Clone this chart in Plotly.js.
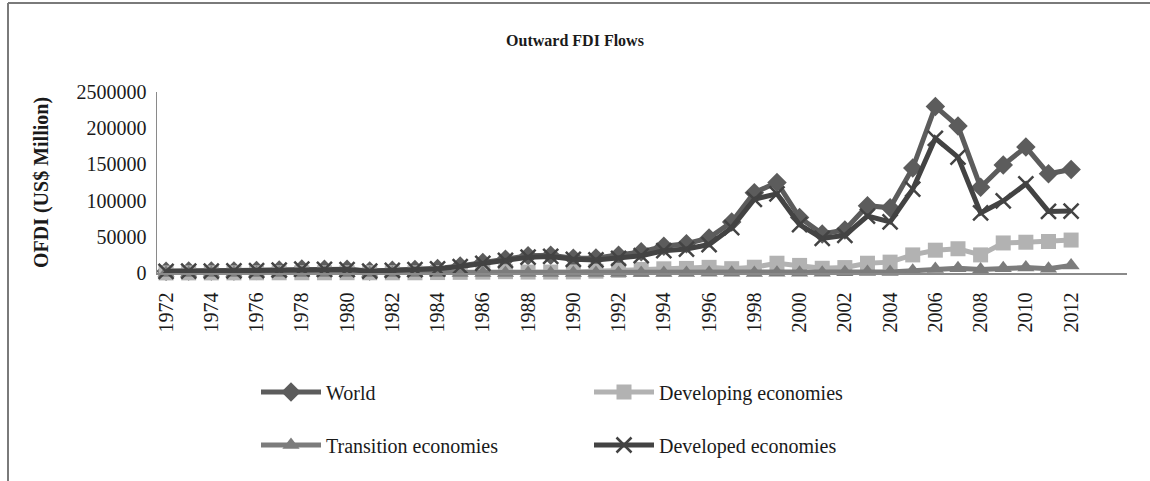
<!DOCTYPE html>
<html>
<head>
<meta charset="utf-8">
<script src="https://cdn.plot.ly/plotly-3.0.1.min.js"></script>
<style>
  html, body { margin: 0; padding: 0; background: #fff; }
  #chart { width: 1150px; height: 481px; }
</style>
</head>
<body>
<div id="chart"></div>
<script>
// ---- data (label years as shown on the axis) ----
const years = [1972,1973,1974,1975,1976,1977,1978,1979,1980,1981,1982,1983,1984,1985,1986,1987,1988,1989,1990,1991,1992,1993,1994,1995,1996,1997,1998,1999,2000,2001,2002,2003,2004,2005,2006,2007,2008,2009,2010,2011,2012];

const world = [2500,2800,2850,2900,3400,4300,5500,5300,5200,2800,3800,5000,6300,9800,14500,19000,23800,24600,20500,20800,24500,29200,37000,40500,48500,70500,111000,125000,76500,54000,59500,93000,90000,145000,230000,203000,118500,149000,174000,137000,143000];

const developing = [100,150,150,200,250,300,350,300,400,300,300,300,600,900,1200,1800,1300,1300,1500,2500,3800,4800,5800,6300,7800,6000,8000,13500,10500,6500,7500,13500,15000,25000,31500,33500,25000,41500,42500,43500,45500];

const transition = [0,0,0,0,0,0,0,0,0,0,0,0,0,0,0,0,0,0,0,0,10,30,50,100,300,250,150,320,270,460,1060,1400,1500,3000,5500,6500,5000,6500,7500,6000,10500];

const developed = [2400,2700,2700,2800,3200,4100,5200,4900,4800,2500,3500,4700,5700,8900,13400,17300,21800,22900,18900,18000,20100,23900,30800,33100,39300,62600,101800,109400,66700,47700,52000,78700,70700,115700,186000,160000,83000,99500,123000,85000,85500];

const seriesNames = ['World','Developing economies','Transition economies','Developed economies'];

const xTickVals = [1972,1974,1976,1978,1980,1982,1984,1986,1988,1990,1992,1994,1996,1998,2000,2002,2004,2006,2008,2010,2012];
const xTickText = xTickVals.map(String);

const yTickVals = [0,50000,100000,150000,200000,250000];
const yTickText = ['0','50000','100000','150000','200000','2500000'];

// ---- layout geometry (pixels) ----
const W = 1150, H = 481;
const L = 157, R = 1127, T = 92, B = 273;
const xp = px => (px - L) / (R - L);
const yp = py => (B - py) / (B - T);

const FONT = 'Liberation Serif, Times New Roman, serif';

const traces = [
  {
    x: years, y: world, name: seriesNames[0], type: 'scatter', mode: 'lines+markers',
    line: {color: '#5c5c5c', width: 5},
    marker: {symbol: 'diamond', size: 15, color: '#5c5c5c'},
    cliponaxis: false, legend: 'legend'
  },
  {
    x: years, y: developing, name: seriesNames[1], type: 'scatter', mode: 'lines+markers',
    line: {color: '#b2b2b2', width: 5},
    marker: {symbol: 'square', size: 15, color: '#b2b2b2'},
    cliponaxis: false, legend: 'legend'
  },
  {
    x: years, y: transition, name: seriesNames[2], type: 'scatter', mode: 'lines+markers',
    line: {color: '#7c7c7c', width: 5},
    marker: {symbol: 'triangle-up', size: 15, color: '#7c7c7c'},
    cliponaxis: false, legend: 'legend2'
  },
  {
    x: years, y: developed, name: seriesNames[3], type: 'scatter', mode: 'lines+markers',
    line: {color: '#434343', width: 5},
    marker: {symbol: 'x-thin', size: 15, color: '#434343', line: {color: '#434343', width: 2.5}},
    cliponaxis: false, legend: 'legend2'
  }
];

const legendCommon = {
  orientation: 'h', xanchor: 'left', yanchor: 'middle',
  font: {family: FONT, size: 20, color: '#1a1a1a'},
  bgcolor: 'rgba(0,0,0,0)', borderwidth: 0,
  itemwidth: 60, entrywidth: 258, entrywidthmode: 'pixels',
  itemclick: false, itemdoubleclick: false
};

const layout = {
  width: W, height: H,
  margin: {l: L, r: W - R, t: T, b: H - B, pad: 0},
  paper_bgcolor: '#ffffff', plot_bgcolor: '#ffffff',
  font: {family: FONT, color: '#1a1a1a'},
  title: {
    text: '<b>Outward FDI Flows</b>',
    font: {family: FONT, size: 16, color: '#1a1a1a'},
    xref: 'container', x: 0.5, xanchor: 'center',
    yref: 'container', y: 1 - 40 / H, yanchor: 'middle'
  },
  xaxis: {
    range: [1971.6, 2014.47],
    tickmode: 'array', tickvals: xTickVals, ticktext: xTickText,
    tickangle: -90,
    tickfont: {family: FONT, size: 20, color: '#1a1a1a'},
    ticks: 'outside', ticklen: 10, tickcolor: 'rgba(0,0,0,0)',
    showgrid: false, zeroline: false,
    showline: true, linecolor: '#8a8a8a', linewidth: 1.5,
    fixedrange: true
  },
  yaxis: {
    range: [0, 250000],
    tickmode: 'array', tickvals: yTickVals, ticktext: yTickText,
    tickfont: {family: FONT, size: 20, color: '#1a1a1a'},
    ticks: 'outside', ticklen: 5, tickcolor: 'rgba(0,0,0,0)',
    showgrid: false, zeroline: false,
    showline: true, linecolor: '#8a8a8a', linewidth: 1.5,
    title: {text: '<b>OFDI (US$ Million)</b>', font: {family: FONT, size: 20, color: '#1a1a1a'}, standoff: 22},
    fixedrange: true
  },
  legend: Object.assign({}, legendCommon, {x: xp(256), y: yp(392)}),
  legend2: Object.assign({}, legendCommon, {x: xp(256), y: yp(445)}),
  shapes: [
    {type: 'line', xref: 'paper', yref: 'paper', x0: xp(8), x1: xp(8), y0: yp(3), y1: yp(H + 5),
     line: {color: '#7a7a7a', width: 2}, layer: 'below'},
    {type: 'line', xref: 'paper', yref: 'paper', x0: xp(8), x1: xp(W + 5), y0: yp(3), y1: yp(3),
     line: {color: '#7a7a7a', width: 2}, layer: 'below'}
  ],
  showlegend: true
};

Plotly.newPlot('chart', traces, layout, {displayModeBar: false, staticPlot: true});
</script>
</body>
</html>
